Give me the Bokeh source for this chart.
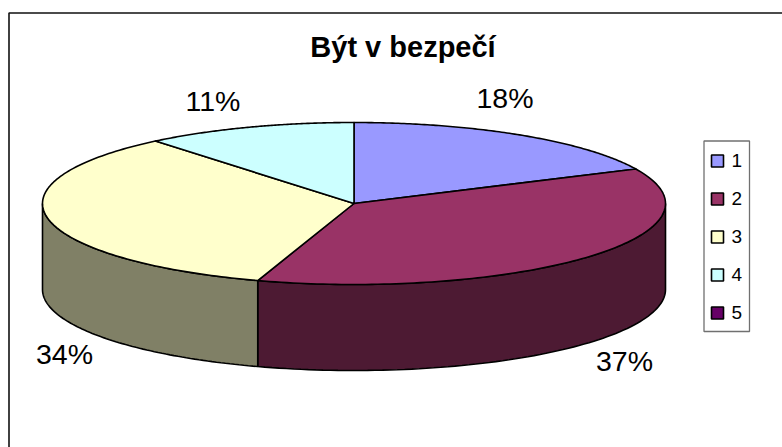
import numpy as np
from bokeh.plotting import figure
from bokeh.embed import file_html
from bokeh.resources import INLINE
from bokeh.core.properties import value

title = "Být v bezpečí"
categories = ["1", "2", "3", "4", "5"]
shares = [18, 37, 34, 11, 0]
colors = ["#9999FF", "#993366", "#FFFFCC", "#CCFFFF", "#660066"]
side_colors = ["#4D4D80", "#4D1A33", "#808066", "#668080", "#330033"]
label_xy = [(504.5, 97), (624, 360), (64, 353), (212.5, 100)]

W, H = 782, 447
CX, CY, RX, RY, DEPTH = 353.5, 203, 311.5, 81, 86
FONT = value("Liberation Sans")

p = figure(width=W, height=H, output_backend="svg", toolbar_location=None,
           x_range=(0, W), y_range=(H, 0), min_border=0,
           title=None, x_axis_location=None, y_axis_location=None, outline_line_color=None)
p.grid.visible = False
p.background_fill_color = "white"
p.border_fill_color = "white"

# outer frame: only its top and left edges fall inside the picture
p.line([8.5, 8.5, W], [H, 12.5, 12.5], line_color="#111111", line_width=1.6)

def pt(theta):
    return CX + RX * np.sin(theta), CY - RY * np.cos(theta)

edges = np.cumsum([0] + shares) / sum(shares) * 2 * np.pi

for i in range(len(shares)):
    a, b = edges[i], edges[i + 1]
    lo, hi = max(a, np.pi / 2), min(b, 3 * np.pi / 2)
    if hi <= lo:
        continue
    t = np.linspace(lo, hi, 80)
    x, y = pt(t)
    xs = np.concatenate([x, x[::-1]])
    ys = np.concatenate([y, (y + DEPTH)[::-1]])
    p.patch(xs, ys, fill_color=side_colors[i], line_color="black", line_width=1.6)

for i in range(len(shares)):
    a, b = edges[i], edges[i + 1]
    if b <= a:
        continue
    t = np.linspace(a, b, 120)
    x, y = pt(t)
    xs = np.concatenate([[CX], x])
    ys = np.concatenate([[CY], y])
    p.patch(xs, ys, fill_color=colors[i], line_color="black", line_width=1.6, line_join="round")

for (lx, ly), s in zip(label_xy, shares):
    p.text([lx], [ly], text=[f"{s}%"], text_font=FONT, text_font_size="28.5px",
           text_align="center", text_baseline="middle", text_color="black")

p.text([402.5], [46], text=[title], text_font=FONT, text_font_size="29px", text_font_style="bold",
       text_align="center", text_baseline="middle", text_color="black")

LY0, LDY = 160.5, 38
p.quad(left=[703.5], right=[749], top=[140.5], bottom=[331], fill_color="white", line_color="#707070", line_width=1.3)
for i, c in enumerate(categories):
    y = LY0 + i * LDY
    p.quad(left=[711], right=[723], top=[y - 6], bottom=[y + 6], fill_color=colors[i], line_color="black", line_width=1.6)
    p.text([731], [y - 0.5], text=[c], text_font=FONT, text_font_size="19px",
           text_align="left", text_baseline="middle", text_color="black")

open("out.html", "w").write(file_html(p, INLINE))
